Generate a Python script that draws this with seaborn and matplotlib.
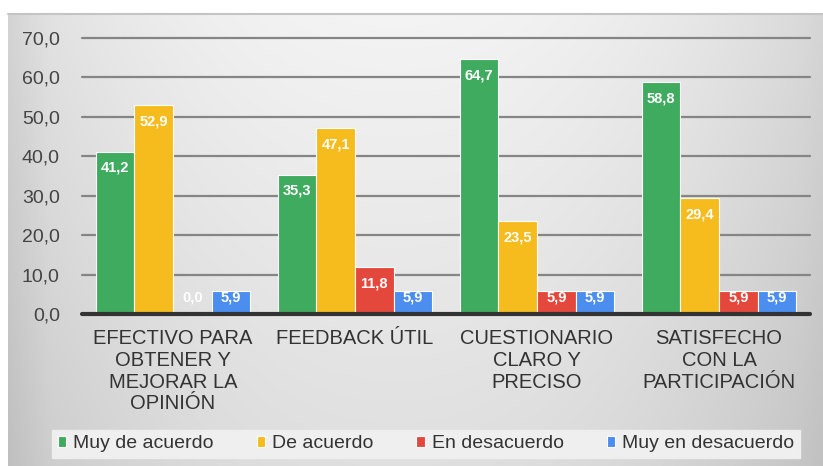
import numpy as np
import pandas as pd
import seaborn as sns
import matplotlib.pyplot as plt

categories = ["EFECTIVO PARA\nOBTENER Y\nMEJORAR LA\nOPINIÓN", "FEEDBACK ÚTIL",
              "CUESTIONARIO\nCLARO Y\nPRECISO", "SATISFECHO\nCON LA\nPARTICIPACIÓN"]
series = ["Muy de acuerdo", "De acuerdo", "En desacuerdo", "Muy en desacuerdo"]
muy_de_acuerdo = [41.2, 35.3, 64.7, 58.8]
de_acuerdo = [52.9, 47.1, 23.5, 29.4]
en_desacuerdo = [0.0, 11.8, 5.9, 5.9]
muy_en_desacuerdo = [5.9, 5.9, 5.9, 5.9]
yticks = [0, 10, 20, 30, 40, 50, 60, 70]
colors = ["#3fab5e", "#f6bc1e", "#e4483d", "#4b8ef0"]

rows = []
for s, vals in zip(series, [muy_de_acuerdo, de_acuerdo, en_desacuerdo, muy_en_desacuerdo]):
    for c, v in zip(categories, vals):
        rows.append({"cat": c, "serie": s, "val": v})
df = pd.DataFrame(rows)

sns.set_style("white")
plt.rcParams['font.family'] = ['Liberation Sans', 'DejaVu Sans']

W, H = 823, 466
fig = plt.figure(figsize=(W / 100, H / 100), dpi=100)
fig.patch.set_facecolor("white")

# background panel with gradient
bg = fig.add_axes([8 / W, 0, 1 - 8 / W, (H - 14) / H], zorder=0)
nx, ny = 400, 200
xx, yy = np.meshgrid(np.linspace(-1, 1, nx), np.linspace(0, 1, ny))
val = (0.955 - 0.10 * (np.abs(xx + 0.05) ** 2.2) - 0.08 * yy
       - 0.35 * np.clip(-xx - 0.9, 0, None) - 0.15 * np.clip(xx - 0.95, 0, None))
img = np.dstack([val, val, val])
bg.imshow(img, aspect="auto", extent=[0, 1, 0, 1], origin="upper")
bg.plot([0, 1], [1, 1], color="#c4c4c4", lw=1.5, transform=bg.transAxes, clip_on=False)
bg.set_axis_off()

ax = fig.add_axes([82 / W, 1 - 314 / H, (810 - 82) / W, (314 - 38) / H], zorder=1)
ax.patch.set_alpha(0)
sns.barplot(data=df, x="cat", y="val", hue="serie", palette=colors, width=0.85,
            edgecolor="white", linewidth=0.8, ax=ax, errorbar=None, saturation=1)
handles, labels = ax.get_legend_handles_labels()
ax.get_legend().remove()

ax.set_ylim(0, 70)
ax.set_yticks(yticks)
ax.set_yticklabels([f"{t:.1f}".replace(".", ",") for t in yticks], fontsize=14, color="#444444")
ax.yaxis.grid(True, color="#858585", lw=1.6)
for gl in ax.get_ygridlines():
    gl.set_clip_on(False)
ax.set_axisbelow(True)
ax.axhline(0, color="#333333", lw=3, zorder=5, clip_on=False)
for sp in ax.spines.values():
    sp.set_visible(False)
ax.tick_params(axis="both", length=0)
ax.tick_params(axis="y", pad=16)
ax.tick_params(axis="x", pad=11)
for t in ax.get_xticklabels():
    t.set_fontsize(14.5)
    t.set_color("#333333")
    t.set_linespacing(1.18)
ax.set_xlabel("")
ax.set_ylabel("")
ax.set_xlim(-0.5, 3.5)

for cont in ax.containers:
    for bar in cont:
        v = bar.get_height()
        yc = max(v - 4.1, 4.3)
        ax.text(bar.get_x() + bar.get_width() / 2, yc, f"{v:.1f}".replace(".", ","),
                ha="center", va="center", color="white", fontsize=10.5, fontweight="bold", zorder=6)

leg = fig.legend(handles, labels, loc="center", bbox_to_anchor=(426 / W, 1 - 444 / H), ncol=4,
                 fontsize=14, frameon=True, fancybox=False, edgecolor="#eeeeee",
                 facecolor="#efefef", handlelength=0.45, handleheight=0.45, handletextpad=0.35,
                 columnspacing=2.2, borderpad=0.3, borderaxespad=0)
leg.get_frame().set_alpha(1)
for t in leg.get_texts():
    t.set_color("#333333")

fig.savefig("out.png", dpi=100)
